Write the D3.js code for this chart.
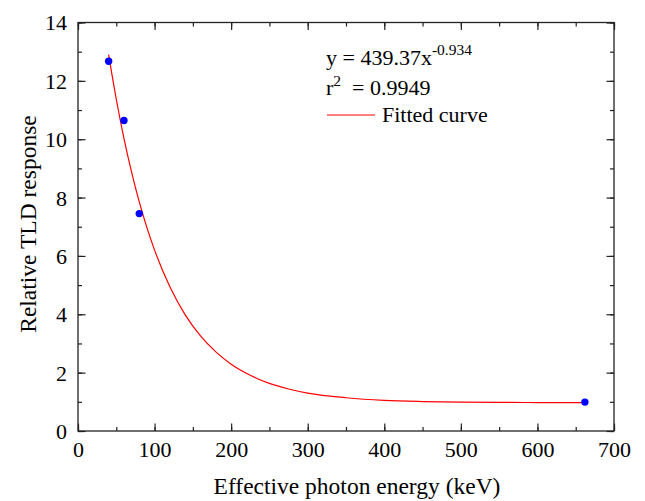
<!DOCTYPE html>
<html>
<head>
<meta charset="utf-8">
<script src="https://cdn.jsdelivr.net/npm/d3@7"></script>
<style>
  body { margin: 0; background: #fff; }
  text { font-family: "Liberation Serif", "Times New Roman", serif; fill: #000; }
</style>
</head>
<body>
<div id="chart"></div>
<script>
// measured points
var energy = [40, 60, 80, 662];
var response = [12.67, 10.64, 7.45, 0.99];

// fitted curve
var curveX = [40, 50, 60, 70, 80, 90, 100, 120, 140, 160, 180, 200, 225, 250, 275, 300, 350, 400, 450, 500, 550, 600, 662];
var curveY = [12.9, 11.37, 10.03, 8.87, 7.85, 6.97, 6.2, 4.94, 3.98, 3.26, 2.71, 2.29, 1.91, 1.63, 1.44, 1.3, 1.14, 1.05, 1.01, 0.99, 0.98, 0.975, 0.97];

var xTicks = [0, 100, 200, 300, 400, 500, 600, 700];
var yTicks = [0, 2, 4, 6, 8, 10, 12, 14];

var svg = d3.select("#chart").append("svg")
    .attr("width", 645).attr("height", 501),
    margin = {top: 22.5, right: 31, bottom: 70, left: 78},
    width = svg.attr("width") - margin.left - margin.right,
    height = svg.attr("height") - margin.top - margin.bottom,
    g = svg.append("g").attr("transform", "translate(" + margin.left + "," + margin.top + ")");

var x = d3.scaleLinear().domain([0, 700]).range([0, width]),
    y = d3.scaleLinear().domain([0, 14]).range([height, 0]);

var minorX = d3.range(0, 701, 50),
    minorY = d3.range(0, 14.01, 1);

function styleAxis(sel) {
  sel.select(".domain").remove();
  sel.selectAll(".tick line").attr("stroke", "#222").attr("stroke-width", 1.2);
  sel.selectAll(".tick text").style("font-size", "22px");
}

// minor ticks (all four sides)
g.append("g").attr("transform", "translate(0," + height + ")")
  .call(d3.axisBottom(x).tickValues(minorX).tickSize(-4).tickFormat(""))
  .call(styleAxis);
g.append("g")
  .call(d3.axisTop(x).tickValues(minorX).tickSize(-4).tickFormat(""))
  .call(styleAxis);
g.append("g")
  .call(d3.axisLeft(y).tickValues(minorY).tickSize(-4).tickFormat(""))
  .call(styleAxis);
g.append("g").attr("transform", "translate(" + width + ",0)")
  .call(d3.axisRight(y).tickValues(minorY).tickSize(-4).tickFormat(""))
  .call(styleAxis);

// major ticks with labels
g.append("g").attr("transform", "translate(0," + height + ")")
  .call(d3.axisBottom(x).tickValues(xTicks).tickSize(-7.5).tickFormat(d3.format("d")))
  .call(styleAxis)
  .selectAll(".tick text").attr("y", 26).attr("dy", 0);
g.append("g")
  .call(d3.axisTop(x).tickValues(xTicks).tickSize(-7.5).tickFormat(""))
  .call(styleAxis);
g.append("g")
  .call(d3.axisLeft(y).tickValues(yTicks).tickSize(-7.5).tickFormat(d3.format("d")))
  .call(styleAxis)
  .selectAll(".tick text").attr("x", -11).attr("dy", "0.34em");
g.append("g").attr("transform", "translate(" + width + ",0)")
  .call(d3.axisRight(y).tickValues(yTicks).tickSize(-7.5).tickFormat(""))
  .call(styleAxis);

// frame
g.append("rect")
  .attr("width", width).attr("height", height)
  .attr("fill", "none").attr("stroke", "#222").attr("stroke-width", 1.3);

// fitted curve
var line = d3.line()
  .x(function(d, i) { return x(curveX[i]); })
  .y(function(d) { return y(d); })
  .curve(d3.curveMonotoneX);

g.append("path")
  .datum(curveY)
  .attr("d", line)
  .attr("fill", "none")
  .attr("stroke", "#ff0000")
  .attr("stroke-width", 1.2);

// data points
g.selectAll(".dot")
  .data(energy)
  .enter().append("circle")
  .attr("class", "dot")
  .attr("cx", function(d) { return x(d); })
  .attr("cy", function(d, i) { return y(response[i]); })
  .attr("r", 3.7)
  .attr("fill", "#0000ff");

// legend / equation
var eq = svg.append("text").attr("x", 326).attr("y", 65).style("font-size", "22px");
eq.append("tspan").text("y = 439.37x");
eq.append("tspan").attr("dy", -10).style("font-size", "15.5px").text("-0.934");

var r2 = svg.append("text").attr("x", 326).attr("y", 95).style("font-size", "22px");
r2.append("tspan").text("r");
r2.append("tspan").attr("dy", -9).style("font-size", "15.5px").text("2");
r2.append("tspan").attr("dy", 9).text("  = 0.9949").attr("xml:space", "preserve");

svg.append("line")
  .attr("x1", 327).attr("x2", 375).attr("y1", 115).attr("y2", 115)
  .attr("stroke", "#ff0000").attr("stroke-width", 1.2);
svg.append("text").attr("x", 382).attr("y", 122).style("font-size", "22px").text("Fitted curve");

// axis titles
svg.append("text")
  .attr("x", 357).attr("y", 494)
  .attr("text-anchor", "middle")
  .style("font-size", "23.5px")
  .text("Effective photon energy (keV)");

svg.append("text")
  .attr("transform", "translate(36,224) rotate(-90)")
  .attr("text-anchor", "middle")
  .style("font-size", "23.5px")
  .text("Relative TLD response");
</script>
</body>
</html>
